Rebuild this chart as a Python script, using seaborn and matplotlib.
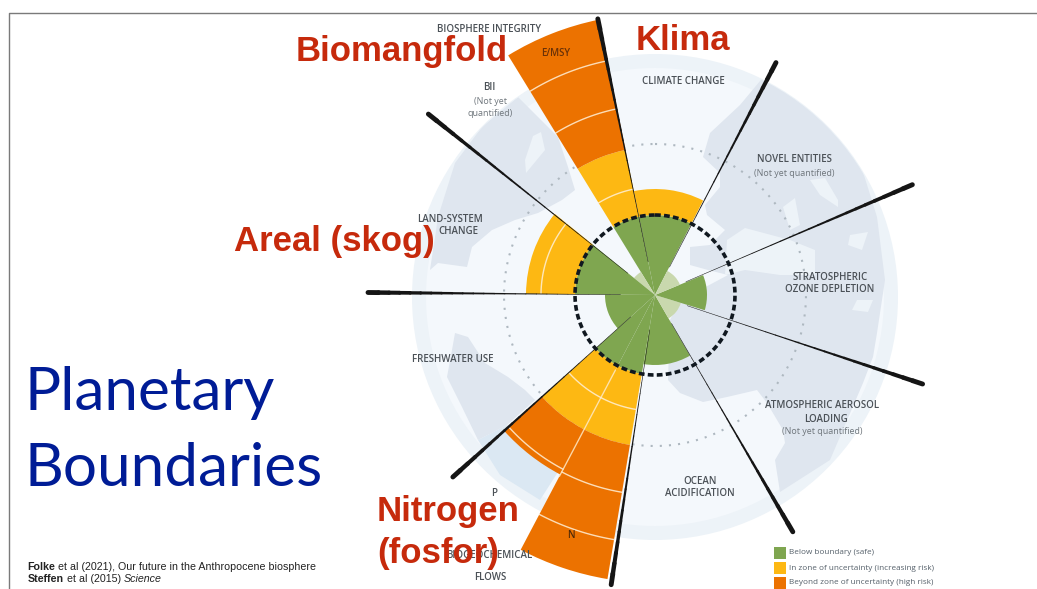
import numpy as np
import pandas as pd
import matplotlib
matplotlib.use("Agg")
import matplotlib.pyplot as plt
from matplotlib.patches import Circle
import seaborn as sns

# ---- data ----
sector_names = ["Climate", "E/MSY", "BII", "Land", "Freshwater", "P", "N", "Ocean", "Aerosol", "Ozone", "Novel"]
sector_start = [-11.5, -31.5, -51, -89.5, -132, -152.2, -170.5, 150, 107, 67.5, 27]
sector_end = [27, -11.5, -31.5, -51, -89.5, -132, -152.2, 189.5, 150, 107, 67.5]
safe_r = [80, 80, 27, 80, 50, 80, 80, 70, 27, 52, 27]
safe_pale = [0, 0, 1, 0, 0, 0, 0, 0, 1, 0, 1]
zone_r = [106, 148, 0, 129, 0, 152, 152, 0, 0, 0, 0]
high_r = [0, 281, 0, 0, 0, 203, 288, 0, 0, 0, 0]
arc_sector = [1, 1, 1, 3, 5, 5, 6, 6, 6]
arc_r = [108, 190, 239, 114, 116, 197, 116, 200, 248]

spoke_angle = [-11.7, 27.5, 66.8, 108.4, 149.8, 188.6, 228, 270.5, 308.6]
spoke_len = [282, 262, 280, 282, 274, 293, 272, 287, 290]

boundary_radius = 80
dotted_radius = 151
globe_radius = 243

land_right_x = [740, 765, 800, 850, 877, 885, 877, 873, 863, 830, 780, 775, 785, 783, 767, 757, 727, 703, 680, 668, 670, 680, 700, 728, 708, 690, 690, 710, 725, 707, 705, 720, 720, 703, 710]
land_right_y = [105, 75, 85, 130, 217, 280, 333, 357, 383, 460, 492, 460, 443, 430, 403, 390, 397, 402, 393, 380, 320, 300, 290, 275, 270, 265, 247, 245, 230, 215, 205, 187, 173, 157, 133]
land_left_x = [518, 558, 568, 575, 562, 538, 515, 492, 472, 467, 438, 430, 438, 455, 482]
land_left_y = [97, 137, 167, 190, 200, 213, 220, 230, 247, 267, 263, 270, 217, 163, 127]
land_sw_x = [455, 452, 447, 462, 478, 507, 535, 525, 508, 485, 468]
land_sw_y = [333, 350, 377, 407, 440, 425, 400, 390, 377, 363, 337]
sea_sw_x = [478, 507, 558, 540, 500]
sea_sw_y = [440, 425, 472, 500, 475]
holes = [
    ([533, 541, 545, 526, 525], [136, 132, 150, 173, 160]),
    ([727, 745, 790, 815, 815, 780, 745, 725], [240, 228, 240, 250, 275, 275, 270, 275]),
    ([810, 825, 838, 838, 820], [180, 178, 200, 207, 195]),
    ([783, 795, 800, 790], [207, 198, 225, 230]),
    ([850, 868, 862, 848], [235, 232, 250, 245]),
    ([857, 873, 868, 852], [300, 300, 312, 310]),
]

legend_labels = ["Below boundary (safe)", "In zone of uncertainty (increasing risk)", "Beyond zone of uncertainty (high risk)"]
legend_y = [553, 568, 583]
legend_x = [780, 780, 780]

map_labels = [
    ("BIOSPHERE INTEGRITY", 489, 30), ("BII", 489, 88), ("(Not yet", 491, 102), ("quantified)", 490, 114),
    ("CLIMATE CHANGE", 683, 81), ("NOVEL ENTITIES", 794, 160), ("(Not yet quantified)", 794, 173),
    ("STRATOSPHERIC", 830, 277), ("OZONE DEPLETION", 830, 289), ("LAND-SYSTEM", 450, 219), ("CHANGE", 458, 231),
    ("FRESHWATER USE", 453, 360), ("ATMOSPHERIC AEROSOL", 822, 406), ("LOADING", 826, 419), ("(Not yet quantified)", 822, 432),
    ("OCEAN", 700, 481), ("ACIDIFICATION", 700, 494), ("P", 494, 493), ("BIOGEOCHEMICAL", 489, 556), ("FLOWS", 490, 578),
]
red_labels = [("Biomangfold", 296, 52), ("Klima", 636, 40), ("Areal (skog)", 234, 242), ("Nitrogen", 377, 511), ("(fosfor)", 377, 553)]
title_lines = [("Planetary", 25, 410), ("Boundaries", 25, 486)]

GREEN, PALE, YELLOW, ORANGE = "#7fa650", "#c9d8ae", "#fdb813", "#ec7200"
LAND, OCEAN, RIM, SEA = "#dfe6ef", "#f4f8fc", "#edf3f8", "#dbe8f3"
W, H = 1037, 589
CX, CY = 655, 295
RMAX = 300

sns.set_theme(style="white")
plt.rcParams["font.family"] = ["Liberation Sans", "DejaVu Sans"]
fig = plt.figure(figsize=(W / 100, H / 100), dpi=100, facecolor="white")


def pixel_axes(z):
    a = fig.add_axes([0, 0, 1, 1], zorder=z)
    a.set_xlim(0, W)
    a.set_ylim(H, 0)
    a.axis("off")
    a.patch.set_alpha(0)
    return a


under = pixel_axes(0)
over = pixel_axes(2)

# frame lines of the slide
under.plot([8.5, 8.5, W], [H, 12.5, 12.5], color="#7a7a7a", lw=1.0)

# globe
under.add_patch(Circle((CX, CY + 2), globe_radius, color=RIM, lw=0))
under.add_patch(Circle((CX, CY + 2), globe_radius - 14, color=OCEAN, lw=0))
clip = Circle((CX, CY + 2), globe_radius - 1, transform=under.transData)
for xs, ys, col in [(land_right_x, land_right_y, LAND), (land_left_x, land_left_y, LAND),
                    (sea_sw_x, sea_sw_y, SEA), (land_sw_x, land_sw_y, LAND)]:
    for p in under.fill(xs, ys, color=col, lw=0):
        p.set_clip_path(clip)
for xs, ys in holes:
    under.fill(xs, ys, color="#edf3f8", lw=0)

# polar chart
ax = fig.add_axes([(CX - RMAX) / W, (H - CY - RMAX) / H, 2 * RMAX / W, 2 * RMAX / H],
                  projection="polar", zorder=1)
ax.set_theta_zero_location("N")
ax.set_theta_direction(-1)
ax.set_ylim(0, RMAX)
ax.axis("off")
ax.patch.set_alpha(0)

for s, e, g, pale, z, h in zip(sector_start, sector_end, safe_r, safe_pale, zone_r, high_r):
    t0, wid = np.radians(s), np.radians(e - s)
    ax.bar(t0, g, width=wid, bottom=0, align="edge", color=PALE if pale else GREEN, lw=0, clip_on=False)
    if z:
        ax.bar(t0, z - g, width=wid, bottom=g, align="edge", color=YELLOW, lw=0, clip_on=False)
    if h:
        ax.bar(t0, h - z, width=wid, bottom=z, align="edge", color=ORANGE, lw=0, clip_on=False)

for i, r in zip(arc_sector, arc_r):
    th = np.radians(np.linspace(sector_start[i], sector_end[i], 30))
    ax.plot(th, np.full_like(th, r), color="#fff0d8", lw=1.0, alpha=0.85, clip_on=False)
# divider between P and N
ax.plot(np.radians([sector_end[6]] * 2), [85, 205], color="#ffe9c4", lw=1.0, alpha=0.8, clip_on=False)

# circles
th = np.linspace(0, 2 * np.pi, 400)
ax.plot(th, np.full_like(th, dotted_radius), color="#aeb8c0", lw=1.5, ls=(0, (1, 3.4)), zorder=0.5)

# spokes, thin at the hub, thick at the rim
for ang, ln in zip(spoke_angle, spoke_len):
    fr = np.linspace(0.12, 1, 25)
    for a, b in zip(fr[:-1], fr[1:]):
        ax.plot(np.radians([ang, ang]), [a * ln, b * ln], color="#151515",
                lw=0.3 + 3.2 * b ** 2.6, solid_capstyle="round", clip_on=False)

ax.plot(th, np.full_like(th, boundary_radius), color="#101820", lw=2.6, ls=(0, (1.6, 0.9)), zorder=5)

# texts
for txt, x, y in map_labels:
    quiet = txt[0] == "(" or txt[0] == "q"
    over.text(x, y, txt, ha="center", va="center", fontsize=6.4 if quiet else 7.0,
              color="#6f767c" if quiet else "#4b5157",
              family=["Open Sans", "DejaVu Sans"], weight="normal" if quiet else "semibold")
over.text(556, 53, "E/MSY", ha="center", va="center", fontsize=7, color="#6a3208",
          family=["Open Sans", "DejaVu Sans"], weight="semibold")
over.text(571, 535, "N", ha="center", va="center", fontsize=7, color="#4f2a08",
          family=["Open Sans", "DejaVu Sans"], weight="semibold")

for txt, x, y in red_labels:
    over.text(x, y, txt, ha="left", va="center", fontsize=25, weight="bold", color="#c62a0c")
for txt, x, y in title_lines:
    over.text(x, y, txt, ha="left", va="baseline", fontsize=43.4, color="#001c96",
              family=["Lato", "DejaVu Sans"], weight="normal")


def chain(x, y, pieces):
    prev = None
    for txt, w, st in pieces:
        if prev is None:
            prev = over.text(x, y, txt, fontsize=7.7, weight=w, style=st, color="#222222", va="baseline")
        else:
            prev = over.annotate(txt, xy=(1, 0), xycoords=prev, xytext=(0, 0), textcoords="offset points",
                                 fontsize=7.7, weight=w, style=st, color="#222222", va="bottom", ha="left")


chain(27.5, 570, [("Folke", "bold", "normal"), (" et al (2021), Our future in the Anthropocene biosphere", "normal", "normal")])
chain(28, 582, [("Steffen", "bold", "normal"), (" et al (2015) ", "normal", "normal"), ("Science", "normal", "italic")])

# legend
leg = pd.DataFrame({"x": legend_x, "y": legend_y, "kind": legend_labels})
sns.scatterplot(data=leg, x="x", y="y", hue="kind", palette=[GREEN, YELLOW, ORANGE], marker="s",
                s=85, linewidth=0, legend=False, ax=over)
over.set_xlim(0, W)
over.set_ylim(H, 0)
for txt, y in zip(legend_labels, legend_y):
    over.text(789, y, txt, fontsize=5.9, va="center", color="#55606a", family=["Open Sans", "DejaVu Sans"])

fig.savefig("out.png", dpi=100, facecolor="white")
